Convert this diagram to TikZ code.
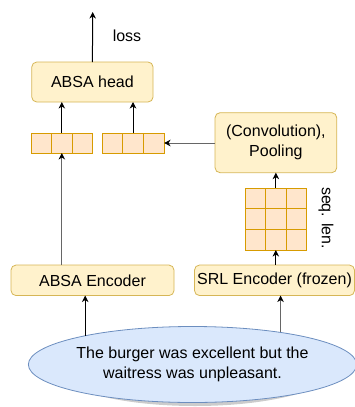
\documentclass[tikz,border=0pt]{standalone}
\usepackage{fontspec}
\setmainfont{Liberation Sans}
\usetikzlibrary{arrows.meta,shapes.geometric}
\definecolor{boxfill}{HTML}{FFF2CC}
\definecolor{boxline}{HTML}{D6B656}
\definecolor{cellfill}{HTML}{FFE6CC}
\definecolor{cellline}{HTML}{D79B00}
\definecolor{ellfill}{HTML}{DAE8FC}
\definecolor{ellline}{HTML}{6C8EBF}
\definecolor{lgray}{HTML}{666666}
\begin{document}
\begin{tikzpicture}[x=1pt,y=-1pt,
  every node/.style={font=\fontsize{16}{20}\selectfont, inner sep=0pt, outer sep=0pt},
  ybox/.style={draw=boxline, fill=boxfill, rounded corners=5pt, line width=0.8pt, align=center},
  cellbox/.style={draw=cellline, fill=cellfill, line width=0.8pt, minimum height=20pt},
  arr/.style={draw=black, line width=1pt, -{Stealth[length=6.5pt,width=6.5pt,inset=2pt]}},
  garr/.style={draw=lgray, line width=1pt, -{Stealth[length=6.5pt,width=6.5pt,inset=2pt,color=black]}}]
\useasboundingbox (0,0) rectangle (355,407);

% boxes
\node[ybox, minimum width=121.3pt, minimum height=40pt] (head) at (92.4,82) {ABSA head};
\node[ybox, minimum width=121.7pt, minimum height=60pt] (conv) at (275.9,142.7) {(Convolution),\\Pooling};
\node[ybox, minimum width=163pt, minimum height=30.5pt] (abenc) at (92.5,280.3) {ABSA Encoder};
\node[ybox, minimum width=160pt, minimum height=30.5pt] (srl) at (274.5,280.3) {SRL Encoder (frozen)};

% cell rows
\node[cellbox, minimum width=20.1pt] (c11) at (41.75,143) {};
\node[cellbox, minimum width=20.1pt] (c12) at (61.85,143) {};
\node[cellbox, minimum width=20.1pt] (c13) at (81.95,143) {};
\node[cellbox, minimum width=20.67pt] (c21) at (112.3,143) {};
\node[cellbox, minimum width=20.67pt] (c22) at (133,143) {};
\node[cellbox, minimum width=20.67pt] (c23) at (153.7,143) {};

% grid
\foreach \r/\y in {1/198.3,2/219,3/239.7}{
  \foreach \c/\x in {1/255.3,2/275.85,3/296.4}{
    \node[cellbox, minimum width=20.56pt, minimum height=20.67pt] (g\r\c) at (\x,\y) {};
  }
}

% ellipse with shadow
\fill[black, opacity=0.2] (195,368) ellipse [x radius=140pt, y radius=38pt];
\node[ellipse, draw=ellline, fill=ellfill, line width=0.8pt, minimum width=280pt, minimum height=76pt, align=center] (ell) at (192.5,364.5) {The burger was excellent but the\\waitress was unpleasant.};

% labels
\coordinate (lossend) at (92.7,12);
\node (loss) at (127,36) {loss};
\node[rotate=-90] (seq) at (326,218) {seq. len.};

% connectors
\draw[arr] (head.north) -- (lossend);
\draw[arr] (c12.north) -- (c12.north |- head.south);
\draw[arr] (c22.north) -- (c22.north |- head.south);
\draw[garr] (conv.west |- c23.east) -- (c23.east);
\draw[arr] (g12.north) -- (g12.north |- conv.south);
\draw[arr] (g32.south |- srl.north) -- (g32.south);
\draw[garr] (c12.south |- abenc.north) -- (c12.south);
\draw[arr] (ell.165.1) -- (ell.165.1 |- abenc.south);
\draw[garr] (ell.20.1) -- (ell.20.1 |- srl.south);
\end{tikzpicture}
\end{document}
